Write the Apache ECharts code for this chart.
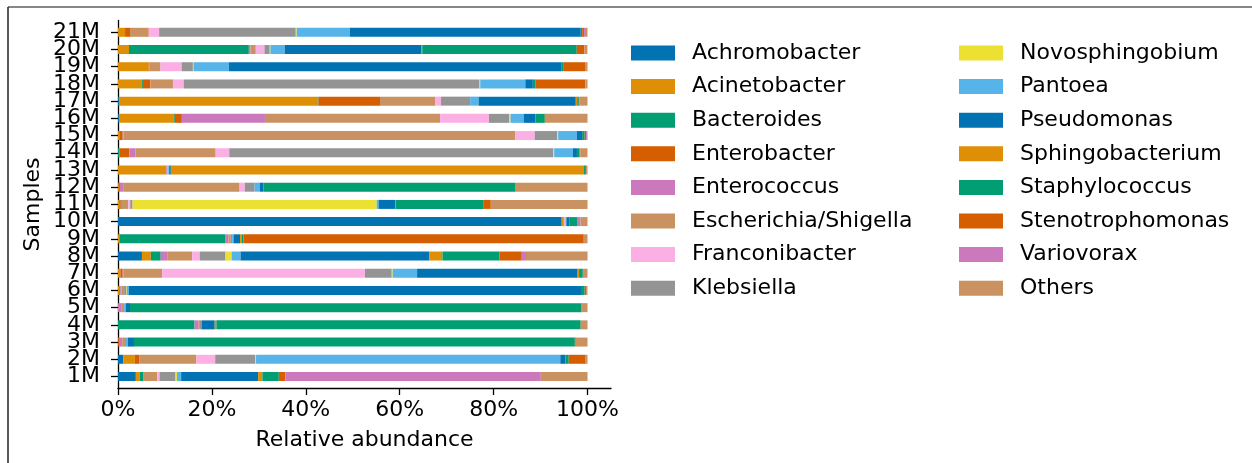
<!DOCTYPE html>
<html>
<head>
<meta charset="utf-8">
<script src="https://cdn.jsdelivr.net/npm/echarts@6/dist/echarts.min.js"></script>
<style>
  html, body { margin: 0; padding: 0; background: #ffffff; }
  #chart { width: 1252px; height: 463px; }
</style>
</head>
<body>
<div id="chart"></div>
<script>
// Samples, bottom to top
const samples = ['1M', '2M', '3M', '4M', '5M', '6M', '7M', '8M', '9M', '10M', '11M',
                 '12M', '13M', '14M', '15M', '16M', '17M', '18M', '19M', '20M', '21M'];

// Genera in stacking / legend order
const genera = ['Achromobacter', 'Acinetobacter', 'Bacteroides', 'Enterobacter', 'Enterococcus',
                'Escherichia/Shigella', 'Franconibacter', 'Klebsiella', 'Novosphingobium', 'Pantoea',
                'Pseudomonas', 'Sphingobacterium', 'Staphylococcus', 'Stenotrophomonas', 'Variovorax', 'Others'];

// Colorblind-safe palette (10 colours, cycled)
const palette = ['#0173b2', '#de8f05', '#029e73', '#d55e00', '#cc78bc', '#ca9161', '#fbafe4',
                 '#949494', '#ece133', '#56b4e9', '#0173b2', '#de8f05', '#029e73', '#d55e00', '#cc78bc', '#ca9161'];

// Relative abundance (%) per genus, one value per sample (1M..21M)
const achromobacter    = [3.8, 1.1, 0, 0, 0, 0, 0, 5.1, 0, 94.5, 0, 0, 0, 0, 0, 0.2, 0.2, 0, 0, 0, 0];
const acinetobacter    = [0.85, 2.5, 0, 0, 0, 0.3, 0.5, 1.9, 0.3, 0.3, 0.3, 0.2, 10.3, 0, 0.3, 11.7, 42.3, 5.1, 6.5, 2.34, 1.5];
const bacteroides      = [0.8, 0, 0, 16.3, 0, 0.2, 0, 2.1, 22.5, 0, 0.2, 0, 0, 0.3, 0, 0.2, 0.2, 0.2, 0, 25.53, 0];
const enterobacter     = [0, 0.9, 0.2, 0, 0, 0, 0.5, 0, 0, 0, 0.3, 0.2, 0, 2.1, 0.7, 1.5, 13.1, 1.6, 0.15, 0, 1.06];
const enterococcus     = [0, 0, 0.7, 0.85, 0.8, 0.2, 0.2, 1.5, 0.7, 0, 0, 0.7, 0.15, 1.3, 0.15, 17.7, 0, 0, 0, 0.35, 0];
const escherichia      = [2.9, 12.2, 0.8, 0.3, 0.5, 0.6, 8.2, 5.2, 0.5, 0.3, 1.4, 24.8, 0.15, 17.1, 83.5, 37.3, 11.8, 4.8, 2.4, 1.13, 4.0];
const franconibacter   = [0.5, 4.0, 0, 0, 0, 0, 43.2, 1.6, 0, 0.2, 0.4, 1.1, 0.1, 2.9, 4.1, 10.4, 1.2, 2.3, 4.5, 1.84, 2.2];
const klebsiella       = [3.4, 8.5, 0, 0.35, 0, 0.5, 5.7, 5.5, 0.3, 0, 0.5, 2.1, 0, 69.0, 4.8, 4.3, 6.2, 63.0, 2.4, 1.13, 29.1];
const novosphingobium  = [0.3, 0.2, 0, 0, 0, 0.1, 0.2, 1.3, 0, 0, 52.0, 0, 0, 0.2, 0.2, 0.3, 0, 0.15, 0.15, 0.14, 0.2];
const pantoea          = [0.9, 64.8, 0.4, 0, 0.4, 0.4, 5.2, 1.9, 0.3, 0.2, 0.4, 1.1, 0.2, 4.0, 4.0, 2.8, 1.8, 9.6, 7.5, 3.05, 11.3];
const pseudomonas      = [16.4, 1.1, 1.3, 2.8, 0.85, 96.5, 34.2, 40.2, 1.4, 0.6, 3.5, 0.8, 0.35, 0.85, 1.1, 2.5, 20.7, 1.6, 70.9, 29.15, 49.2];
const sphingobacterium = [0.9, 0, 0, 0.35, 0, 0, 0.3, 2.8, 0.3, 0, 0.2, 0, 88.0, 0, 0, 0, 0.3, 0, 0, 0.14, 0];
const staphylococcus   = [3.5, 0.7, 93.9, 77.6, 96.2, 0.6, 0.8, 12.1, 0.4, 1.8, 18.7, 53.7, 0.4, 0.55, 0.55, 2.0, 0.35, 0.6, 0.3, 32.91, 0.3];
const stenotrophomonas = [1.4, 3.6, 0.2, 0, 0, 0.3, 0, 4.8, 72.5, 0, 1.5, 0, 0, 0.2, 0.3, 0.2, 0.15, 10.6, 4.8, 1.63, 0.4];
const variovorax       = [54.4, 0, 0, 0, 0, 0, 0, 0.9, 0, 0.6, 0, 0, 0, 0, 0.2, 0, 0, 0, 0, 0, 0.2];
const others           = [9.95, 0.4, 2.5, 1.45, 1.25, 0.3, 1.0, 13.1, 0.8, 1.5, 20.6, 15.3, 0.35, 1.5, 0.1, 8.9, 1.7, 0.45, 0.4, 0.64, 0.54];

const abundance = [achromobacter, acinetobacter, bacteroides, enterobacter, enterococcus, escherichia,
                   franconibacter, klebsiella, novosphingobium, pantoea, pseudomonas, sphingobacterium,
                   staphylococcus, stenotrophomonas, variovorax, others];

// Percent ticks on the abundance axis
const xTicks = [0, 20, 40, 60, 80, 100];

const FONT = 'DejaVu Sans';
const INK = '#000000';

const chart = echarts.init(document.getElementById('chart'), null, { renderer: 'canvas' });

const series = genera.map((name, i) => ({
  name: name,
  type: 'bar',
  stack: 'total',
  xAxisIndex: 0,
  yAxisIndex: 0,
  barWidth: 9,
  itemStyle: { color: palette[i] },
  emphasis: { disabled: true },
  data: abundance[i]
}));

const legendBase = {
  orient: 'vertical',
  icon: 'rect',
  padding: 0,
  itemWidth: 44,
  itemHeight: 15,
  itemGap: 11.6,
  selectedMode: false,
  textStyle: { fontFamily: FONT, fontSize: 22, color: INK, lineHeight: 22, padding: [0, 0, 0, 12] }
};

chart.setOption({
  animation: false,
  backgroundColor: '#ffffff',
  textStyle: { fontFamily: FONT },
  grid: [
    // bar area: one band per sample
    { left: 118, top: 23.7, width: 493, height: 361.4 },
    // axes frame, slightly taller than the bar bands
    { left: 118, top: 20.5, width: 493, height: 367.5 }
  ],
  legend: [
    Object.assign({}, legendBase, { data: genera.slice(0, 8), left: 631, top: 42 }),
    Object.assign({}, legendBase, { data: genera.slice(8), left: 959, top: 42 })
  ],
  xAxis: [
    { gridIndex: 0, type: 'value', min: 0, max: 105, show: false },
    {
      gridIndex: 1, type: 'value', min: 0, max: 105,
      axisLine: { show: true, lineStyle: { color: INK, width: 1.3 } },
      axisTick: { show: true, length: 7, customValues: xTicks, lineStyle: { color: INK, width: 1.3 } },
      axisLabel: { customValues: xTicks, formatter: v => v + '%', fontFamily: FONT, fontSize: 22, color: INK, margin: 11 },
      splitLine: { show: false },
      name: 'Relative abundance', nameLocation: 'middle', nameGap: 41,
      nameTextStyle: { fontFamily: FONT, fontSize: 22, color: INK }
    }
  ],
  yAxis: [
    {
      gridIndex: 0, type: 'category', data: samples,
      axisLine: { show: false },
      axisTick: { show: true, alignWithLabel: true, interval: 0, length: 7, lineStyle: { color: INK, width: 1.3 } },
      axisLabel: { interval: 0, fontFamily: FONT, fontSize: 22, color: INK, margin: 18 },
      splitLine: { show: false },
      name: 'Samples', nameLocation: 'middle', nameGap: 74, nameRotate: 90,
      nameTextStyle: { fontFamily: FONT, fontSize: 22, color: INK }
    },
    {
      gridIndex: 1, type: 'value', min: 0, max: 1,
      axisLine: { show: true, lineStyle: { color: INK, width: 1.3 } },
      axisTick: { show: false }, axisLabel: { show: false }, splitLine: { show: false }
    }
  ],
  graphic: [
    { type: 'line', silent: true, shape: { x1: 8, y1: 7, x2: 1252, y2: 7 }, style: { stroke: '#5f5f5f', lineWidth: 1.5 } },
    { type: 'line', silent: true, shape: { x1: 8, y1: 7, x2: 8, y2: 463 }, style: { stroke: '#222222', lineWidth: 1.5 } }
  ],
  series: series
});
</script>
</body>
</html>
